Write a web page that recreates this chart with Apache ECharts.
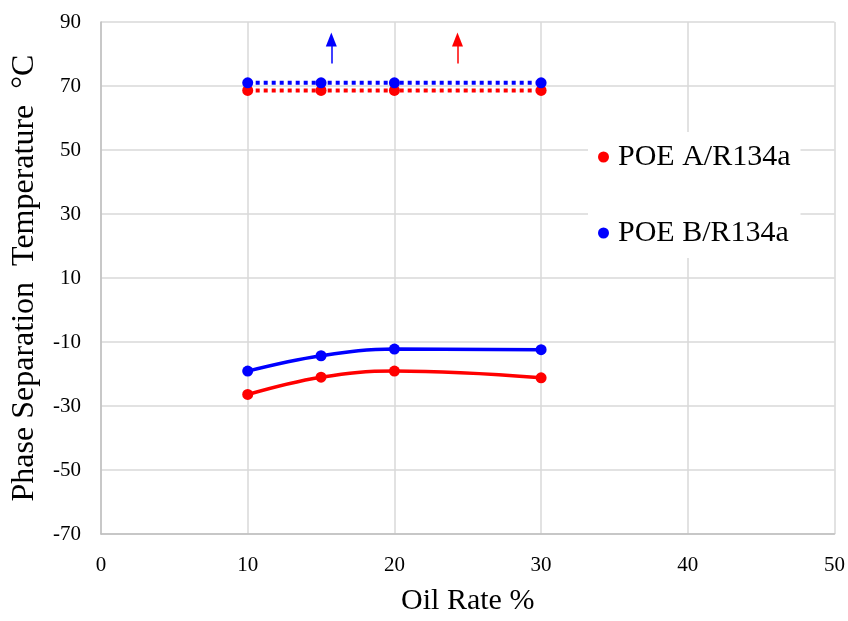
<!DOCTYPE html>
<html>
<head>
<meta charset="utf-8">
<script src="https://cdn.jsdelivr.net/npm/echarts@6/dist/echarts.min.js"></script>
<style>
  html, body { margin: 0; padding: 0; background: #fff; }
  #chart { width: 848px; height: 621px; }
</style>
</head>
<body>
<div id="chart"></div>
<script>
// data
const oilRate = [10, 15, 20, 30]
const poeAUpper = [68.6, 68.6, 68.6, 68.6]
const poeBUpper = [71, 71, 71, 71]
const poeALower = [-26.4, -21.0, -19.1, -21.2]
const poeBLower = [-19.1, -14.3, -12.2, -12.4]
// arrows: [x, yStart, yEnd]
const arrowB = [15.7, 77, 84.5]
const arrowA = [24.3, 77, 84.5]

const RED = '#ff0000'
const BLUE = '#0000ff'
const serif = 'Liberation Serif, Times New Roman, serif'

const pairs = (xs, ys) => xs.map((x, i) => [x, ys[i]])

const arrowLine = (a, color) => ({
  silent: true,
  symbol: ['none', 'triangle'],
  symbolSize: [11, 14],
  label: { show: false },
  lineStyle: { color: color, width: 1.5, type: 'solid' },
  data: [[{ coord: [a[0], a[1]] }, { coord: [a[0], a[2]] }]]
})

const chart = echarts.init(document.getElementById('chart'))

chart.setOption({
  animation: false,
  grid: { left: 101, right: 13, top: 22, bottom: 82 },
  legend: {
    orient: 'vertical',
    left: 588,
    top: 132,
    itemGap: 46,
    padding: [10, 10],
    backgroundColor: '#fff',
    icon: 'circle',
    itemWidth: 11,
    itemHeight: 11,
    textStyle: { fontFamily: serif, fontSize: 30, color: '#000', padding: [0, 0, 0, 4] },
    data: ['POE A/R134a', 'POE B/R134a']
  },
  xAxis: {
    type: 'value',
    min: 0, max: 50, interval: 10,
    name: 'Oil Rate %',
    nameLocation: 'middle',
    nameGap: 52,
    nameTextStyle: { fontFamily: serif, fontSize: 30, color: '#000' },
    axisLine: { show: true, onZero: false, lineStyle: { color: '#bfbfbf', width: 1.5 } },
    axisTick: { show: false },
    axisLabel: { fontFamily: serif, fontSize: 21, color: '#000', margin: 21 },
    splitLine: { show: true, lineStyle: { color: '#d9d9d9', width: 1.5 } }
  },
  yAxis: {
    type: 'value',
    min: -70, max: 90, interval: 20,
    name: 'Phase Separation  Temperature  \u00b0C',
    nameLocation: 'middle',
    nameGap: 60,
    nameTextStyle: { fontFamily: serif, fontSize: 32, color: '#000' },
    axisLine: { show: true, lineStyle: { color: '#bfbfbf', width: 1.5 } },
    axisTick: { show: false },
    axisLabel: { fontFamily: serif, fontSize: 21, color: '#000', margin: 20 },
    splitLine: { show: true, lineStyle: { color: '#d9d9d9', width: 1.5 } }
  },
  series: [
    {
      name: 'POE A/R134a',
      type: 'line',
      data: pairs(oilRate, poeAUpper),
      symbol: 'circle', symbolSize: 11,
      itemStyle: { color: RED },
      lineStyle: { color: RED, width: 4, type: [4, 4] },
      markLine: arrowLine(arrowA, RED),
      z: 3
    },
    {
      name: 'POE B/R134a',
      type: 'line',
      data: pairs(oilRate, poeBUpper),
      symbol: 'circle', symbolSize: 11,
      itemStyle: { color: BLUE },
      lineStyle: { color: BLUE, width: 4, type: [4, 4] },
      markLine: arrowLine(arrowB, BLUE),
      z: 4
    },
    {
      name: 'POE A/R134a',
      type: 'line',
      data: pairs(oilRate, poeALower),
      smooth: 0.4,
      symbol: 'circle', symbolSize: 11,
      itemStyle: { color: RED },
      lineStyle: { color: RED, width: 3.5 },
      z: 3
    },
    {
      name: 'POE B/R134a',
      type: 'line',
      data: pairs(oilRate, poeBLower),
      smooth: 0.4,
      symbol: 'circle', symbolSize: 11,
      itemStyle: { color: BLUE },
      lineStyle: { color: BLUE, width: 3.5 },
      z: 4
    }
  ]
})
</script>
</body>
</html>
